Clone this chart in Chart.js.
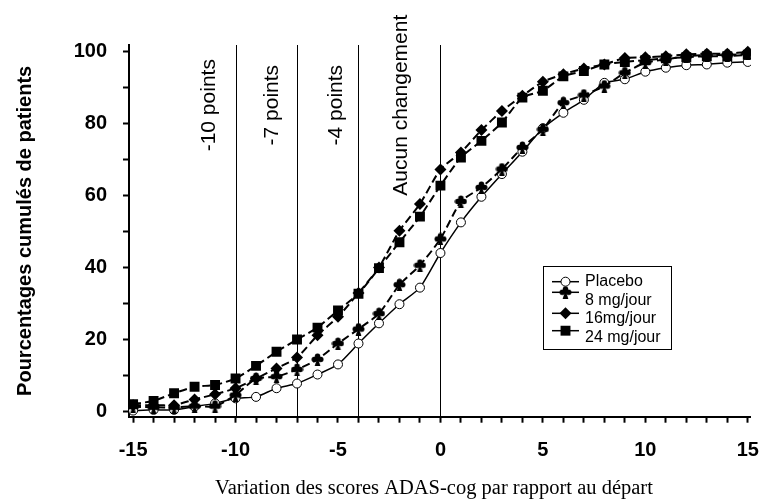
<!DOCTYPE html>
<html>
<head>
<meta charset="utf-8">
<script src="https://cdn.jsdelivr.net/npm/chart.js@4.4.1/dist/chart.umd.min.js"></script>
<style>
  html, body { margin: 0; padding: 0; background: #fff; }
</style>
</head>
<body>
<canvas id="chart" width="775" height="501"></canvas>
<script>
// ADAS-cog change from baseline (x) and cumulative % of patients (y)
const xValues = [-15, -14, -13, -12, -11, -10, -9, -8, -7, -6, -5, -4, -3, -2, -1, 0,
                 1, 2, 3, 4, 5, 6, 7, 8, 9, 10, 11, 12, 13, 14, 15];
const placebo = [0.3, 0.5, 0.5, 1.4, 2.3, 3.7, 4.1, 6.5, 7.8, 10.3, 13.1, 18.9, 24.5, 29.8, 34.4, 44.0,
                 52.5, 59.6, 65.9, 72.1, 78.6, 82.9, 86.5, 91.2, 92.2, 94.3, 95.4, 96.1, 96.3, 96.8, 97.0];
const mg8 = [1.4, 1.2, 1.2, 1.5, 1.5, 4.6, 9.2, 9.7, 11.7, 14.5, 18.9, 22.9, 27.2, 35.2, 40.6, 47.9,
             58.3, 62.2, 67.3, 73.3, 78.3, 85.7, 87.8, 90.3, 94.0, 96.8, 97.7, 98.6, 98.9, 98.9, 99.3];
const mg16 = [1.8, 1.8, 1.8, 3.4, 4.8, 6.5, 9.2, 12.0, 15.0, 21.2, 26.3, 32.9, 40.0, 50.2, 57.6, 67.2,
              71.9, 78.1, 83.4, 87.6, 91.5, 93.6, 95.2, 96.3, 98.1, 98.3, 98.6, 99.1, 99.3, 99.3, 99.8];
const mg24 = [2.1, 3.0, 5.1, 6.9, 7.4, 9.2, 12.7, 16.6, 20.0, 23.3, 28.1, 32.7, 39.8, 47.0, 54.1, 62.7,
              70.5, 75.1, 80.2, 87.1, 89.0, 93.0, 94.5, 96.3, 97.0, 97.5, 98.0, 98.3, 98.6, 98.6, 99.0];
const seriesNames = ['Placebo', '8 mg/jour', '16mg/jour', '24 mg/jour'];

const refLines = [-10, -7, -4, 0];
const refLabels = ['-10 points', '-7 points', '-4 points', 'Aucun changement'];
const refLabelX = [-11.3, -8.2, -5.1, -1.9];
const refLabelY = 85;

const yTitle = 'Pourcentages cumulés de patients';
const xTitle = 'Variation des scores ADAS-cog par rapport au départ';

const sans = '"Liberation Sans", Arial, sans-serif';
const serif = '"Liberation Serif", "Times New Roman", serif';

function makeClub(size) {
    const c = document.createElement('canvas');
    c.width = size; c.height = size;
    const g = c.getContext('2d');
    const r = size * 0.21;
    g.fillStyle = '#000';
    [[size / 2, r + 0.5], [r + 0.5, size * 0.5], [size - r - 0.5, size * 0.5], [size / 2, size * 0.42]].forEach(([cx, cy]) => {
        g.beginPath(); g.arc(cx, cy, r, 0, Math.PI * 2); g.fill();
    });
    g.beginPath();
    g.moveTo(size / 2, size * 0.35);
    g.lineTo(size * 0.28, size);
    g.lineTo(size * 0.72, size);
    g.closePath();
    g.fill();
    return c;
}
const club = makeClub(13);

const toPoints = arr => xValues.map((x, i) => ({ x: x, y: arr[i] }));

const dashed = [8, 4];
const datasets = [
    { label: seriesNames[0], data: toPoints(placebo), borderColor: '#000', borderWidth: 1.5,
      pointStyle: 'circle', pointRadius: 4.5, pointBackgroundColor: '#fff', pointBorderColor: '#000', pointBorderWidth: 1, order: 4 },
    { label: seriesNames[1], data: toPoints(mg8), borderColor: '#000', borderWidth: 2, borderDash: dashed,
      pointStyle: club, pointRadius: 6, pointBackgroundColor: '#000', pointBorderWidth: 0, order: 3 },
    { label: seriesNames[2], data: toPoints(mg16), borderColor: '#000', borderWidth: 2, borderDash: dashed,
      pointStyle: 'rectRot', pointRadius: 6, pointBackgroundColor: '#000', pointBorderColor: '#000', pointBorderWidth: 0, order: 2 },
    { label: seriesNames[3], data: toPoints(mg24), borderColor: '#000', borderWidth: 2, borderDash: dashed,
      pointStyle: 'rect', pointRadius: 7, pointBackgroundColor: '#000', pointBorderColor: '#000', pointBorderWidth: 0, order: 1 }
];

// vertical reference lines + rotated labels + x title
const refPlugin = {
    id: 'refLines',
    beforeDatasetsDraw(chart) {
        const { ctx, scales: { x }, chartArea } = chart;
        ctx.save();
        ctx.strokeStyle = '#000';
        ctx.lineWidth = 1;
        refLines.forEach(v => {
            const px = Math.round(x.getPixelForValue(v)) + 0.5;
            ctx.beginPath();
            ctx.moveTo(px, chartArea.top);
            ctx.lineTo(px, chartArea.bottom);
            ctx.stroke();
        });
        ctx.restore();
    },
    afterDraw(chart) {
        const { ctx, scales: { x, y }, chartArea } = chart;
        ctx.save();
        ctx.fillStyle = '#000';
        ctx.font = '21px ' + sans;
        ctx.textAlign = 'center';
        ctx.textBaseline = 'middle';
        refLabels.forEach((t, i) => {
            ctx.save();
            ctx.translate(x.getPixelForValue(refLabelX[i]), y.getPixelForValue(refLabelY));
            ctx.rotate(-Math.PI / 2);
            ctx.fillText(t, 0, 0);
            ctx.restore();
        });
        // x axis title, a little left of centre as in the original
        ctx.font = '20.5px ' + serif;
        ctx.fillText(xTitle, chartArea.left + 305, chart.height - 12);
        ctx.restore();
    }
};

// boxed legend inside the plot
const legendPlugin = {
    id: 'boxLegend',
    afterDraw(chart) {
        const { ctx, chartArea } = chart;
        const left = chartArea.left + 414, top = chartArea.top + 221;
        const lineY = [15.7, 26.3, 47.3, 64.7];
        const textY = [16, 35, 53, 72];
        ctx.save();
        ctx.fillStyle = '#fff';
        ctx.fillRect(left, top, 128, 83);
        ctx.strokeStyle = '#000';
        ctx.lineWidth = 1;
        ctx.strokeRect(left + 0.5, top + 0.5, 128, 83);
        ctx.font = '16px ' + sans;
        ctx.textBaseline = 'middle';
        ctx.textAlign = 'left';
        chart.data.datasets.forEach((ds, i) => {
            const ly = top + lineY[i];
            ctx.strokeStyle = '#000';
            ctx.lineWidth = 1.5;
            ctx.setLineDash([]);
            ctx.beginPath();
            ctx.moveTo(left + 9, ly);
            ctx.lineTo(left + 36, ly);
            ctx.stroke();
            ctx.fillStyle = ds.pointBackgroundColor;
            ctx.strokeStyle = '#000';
            ctx.lineWidth = ds.pointBorderWidth;
            Chart.helpers.drawPoint(ctx, { pointStyle: ds.pointStyle, radius: ds.pointRadius, rotation: 0, borderWidth: ds.pointBorderWidth }, left + 22.5, ly);
            ctx.fillStyle = '#000';
            ctx.fillText(ds.label, left + 42, top + textY[i]);
        });
        ctx.restore();
    }
};

new Chart(document.getElementById('chart'), {
    type: 'line',
    data: { datasets: datasets },
    options: {
        responsive: false,
        animation: false,
        devicePixelRatio: 1,
        layout: { padding: { top: 45, right: 17, left: 0, bottom: 0 } },
        elements: { line: { tension: 0.2, fill: false } },
        plugins: { legend: { display: false }, tooltip: { enabled: false } },
        scales: {
            x: {
                type: 'linear',
                min: -15.2,
                max: 15.15,
                afterFit(s) { s.height = 84.3; },
                border: { color: '#000', width: 2 },
                grid: { drawOnChartArea: false, drawTicks: true, tickLength: 6, tickColor: '#000', tickWidth: 2 },
                ticks: {
                    stepSize: 1, includeBounds: false, autoSkip: false, maxRotation: 0, padding: 16,
                    color: '#000', font: { family: sans, size: 20, weight: 'bold' },
                    callback: v => (v % 5 === 0 ? String(v) : '')
                }
            },
            y: {
                min: -1.4,
                max: 101.7,
                afterFit(s) { s.width = 129; },
                border: { color: '#000', width: 2 },
                grid: { drawOnChartArea: false, drawTicks: true, tickLength: 6, tickColor: '#000', tickWidth: 2 },
                ticks: {
                    stepSize: 10, includeBounds: false, padding: 16,
                    color: '#000', font: { family: sans, size: 20, weight: 'bold' },
                    callback: v => (v % 20 === 0 ? String(v) : '')
                },
                title: { display: true, text: yTitle, color: '#000', padding: { top: 13, bottom: 0 },
                         font: { family: sans, size: 20, weight: 'bold' } }
            }
        }
    },
    plugins: [refPlugin, legendPlugin]
});
</script>
</body>
</html>
